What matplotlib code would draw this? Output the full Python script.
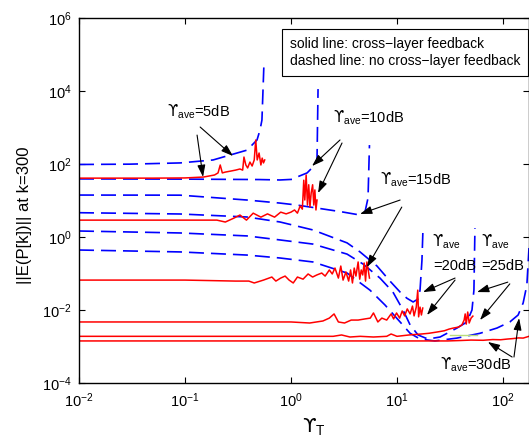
import matplotlib
matplotlib.use('Agg')
import matplotlib.pyplot as plt

plt.rcParams['font.family'] = ['Liberation Sans', 'DejaVu Sans']
plt.rcParams['mathtext.fontset'] = 'custom'
plt.rcParams['mathtext.rm'] = 'Liberation Sans'
plt.rcParams['mathtext.it'] = 'Liberation Sans:italic'
plt.rcParams['mathtext.bf'] = 'Liberation Sans:bold'
plt.rcParams['mathtext.sf'] = 'DejaVu Sans'
plt.rcParams['mathtext.fallback'] = 'stixsans'

# dashed lines: no cross-layer feedback
dash_x_5 = [0.01, 0.03, 0.09, 0.184, 0.266, 0.385, 0.478, 0.51, 0.532, 0.556]
dash_y_5 = [97, 99, 107, 129, 176, 240, 455, 850, 1600, 58000]

dash_x_10 = [0.01, 0.1, 0.5, 0.787, 1.04, 1.14, 1.42, 1.61, 1.76, 1.80]
dash_y_10 = [39, 38.5, 37.5, 36.5, 38, 44, 57, 83, 129, 11300]

dash_x_15 = [0.01, 0.09, 0.385, 0.787, 1.14, 1.76, 3.0, 4.48, 4.99, 5.33, 5.50]
dash_y_15 = [14.1, 14, 10.3, 8.5, 7.5, 6.2, 4.9, 4.0, 4.84, 11.7, 330]

dash_x_20 = [0.01, 0.09, 0.385, 0.787, 1.61, 3.38, 4.48, 6.48, 8.59, 10.7, 12.4,
             14.2, 15.8, 16.5, 17.2, 17.6]
dash_y_20 = [4.63, 4.27, 3.53, 2.58, 1.56, 0.69, 0.39, 0.16, 0.062, 0.031, 0.021,
             0.0166, 0.020, 0.035, 0.23, 1.76]

dash_x_25 = [0.01, 0.09, 0.385, 0.787, 1.61, 3.38, 4.78, 6.91, 9.16, 11.4, 13.3,
             15.8, 19.6, 25.5, 36.8, 45.7, 51.0, 53.2, 54.4]
dash_y_25 = [1.46, 1.29, 1.07, 0.83, 0.64, 0.34, 0.182, 0.075, 0.031, 0.01, 0.0039,
             0.00207, 0.0016, 0.00182, 0.0032, 0.0047, 0.01, 0.035, 1.76]

dash_x_30 = [0.01, 0.09, 0.385, 0.787, 1.61, 3.38, 5.56, 7.71, 10.7, 13.3, 16.5,
             22.8, 36.8, 60.7, 87.7, 116, 139, 155, 168, 176]
dash_y_30 = [0.44, 0.39, 0.32, 0.266, 0.207, 0.103, 0.035, 0.0137, 0.0047, 0.0023,
             0.0016, 0.00142, 0.0017, 0.0023, 0.0032, 0.0047, 0.0073, 0.0156, 0.048, 0.50]

# solid lines: cross-layer feedback
sol_x_5 = [0.01, 0.05, 0.1, 0.15, 0.19, 0.205, 0.215, 0.225, 0.24, 0.27, 0.30, 0.33,
           0.35, 0.36, 0.375, 0.39, 0.41, 0.43, 0.45, 0.465, 0.48, 0.50, 0.52, 0.535,
           0.55, 0.565]
sol_y_5 = [41, 41, 41.5, 44, 50, 57, 94, 57, 60, 64, 68, 73,
           68, 155, 94, 78, 113, 88, 129, 455, 129, 200, 94, 145,
           107, 129]

sol_x_10 = [0.01, 0.1, 0.2, 0.24, 0.29, 0.33, 0.38, 0.44, 0.52, 0.6, 0.7, 0.8, 0.9,
            1.0, 1.08, 1.15, 1.22, 1.28, 1.32, 1.35, 1.39, 1.43, 1.47, 1.51, 1.55,
            1.6, 1.64, 1.68, 1.72, 1.76]
sol_y_10 = [2.9, 2.9, 2.9, 2.57, 3.3, 4.0, 2.9, 4.5, 3.5, 4.3, 3.5, 4.8, 4.3,
            4.8, 5.5, 4.5, 7.1, 5.8, 36, 10.3, 50, 7.5, 27, 6.6, 16,
            27, 7.5, 19.5, 5.5, 10.3]

sol_x_15 = [0.01, 0.1, 0.3, 0.4, 0.45, 0.55, 0.66, 0.72, 0.8, 0.88, 0.96, 1.05, 1.15,
            1.3, 1.45, 1.6, 1.75, 1.95, 2.1, 2.3, 2.45, 2.6, 2.8, 2.95, 3.1, 3.3,
            3.5, 3.65, 3.8, 3.95, 4.1, 4.3, 4.45, 4.6, 4.75, 4.9, 5.05, 5.2, 5.35, 5.5]
sol_y_15 = [0.066, 0.066, 0.062, 0.062, 0.055, 0.066, 0.080, 0.062, 0.075, 0.085,
            0.066, 0.055, 0.080, 0.07, 0.097, 0.08, 0.091, 0.103, 0.085, 0.125,
            0.097, 0.141, 0.075, 0.16, 0.066, 0.11, 0.062, 0.125, 0.055, 0.141,
            0.085, 0.207, 0.07, 0.125, 0.091, 0.194, 0.062, 0.207, 0.125, 0.075]

sol_x_20 = [0.01, 0.1, 1.0, 1.5, 2.0, 2.3, 2.55, 2.8, 3.2, 3.7, 4.3, 5.0, 5.6, 6.0,
            6.6, 7.2, 8.0, 8.8, 9.3, 9.9, 10.6, 11.2, 11.8, 12.5, 13.3, 14.0, 14.5,
            15.2, 15.7, 16.0, 16.5, 17.0, 17.5]
sol_y_20 = [0.0047, 0.0047, 0.0047, 0.0044, 0.005, 0.006, 0.0078, 0.0047, 0.0044,
            0.0053, 0.0053, 0.0057, 0.006, 0.0083, 0.0047, 0.006, 0.0053, 0.0078,
            0.0057, 0.0083, 0.006, 0.0094, 0.0069, 0.0107, 0.0078, 0.0128, 0.0069,
            0.012, 0.035, 0.0065, 0.012, 0.0073, 0.0113]

sol_x_25 = [0.01, 1.0, 2.5, 3.0, 3.6, 4.5, 6.0, 8.0, 8.8, 10, 13, 17, 20, 24, 28, 31,
            34, 38, 41, 43, 44, 45, 46.5, 48, 50, 52]
sol_y_25 = [0.0019, 0.0019, 0.0019, 0.00207, 0.00182, 0.0019, 0.00182, 0.0019,
            0.0022, 0.0019, 0.00207, 0.0022, 0.0023, 0.0025, 0.0027, 0.003, 0.0032,
            0.0034, 0.0039, 0.0053, 0.0078, 0.0041, 0.0088, 0.0044, 0.006, 0.0068]

sol_x_30 = [0.01, 1, 10, 30, 40, 50, 65, 80, 95, 110, 125, 140, 155, 176]
sol_y_30 = [0.00142, 0.00142, 0.00142, 0.00142, 0.00146, 0.0015, 0.00148, 0.00155,
            0.00153, 0.0016, 0.00165, 0.00172, 0.0017, 0.0019]

green_x = [31.6, 57]
green_y = [0.0021, 0.0021]

fig = plt.figure(figsize=(5.29, 4.37), dpi=100)
ax = fig.add_axes([79 / 529, 54 / 437, 450 / 529, 365 / 437])

dashes = (0, (9, 4.2))
for xs, ys in [(dash_x_5, dash_y_5), (dash_x_10, dash_y_10), (dash_x_15, dash_y_15),
               (dash_x_20, dash_y_20), (dash_x_25, dash_y_25), (dash_x_30, dash_y_30)]:
    ax.plot(xs, ys, color='#0000ff', lw=1.2, linestyle=dashes)

ax.plot(green_x, green_y, color='#b8dc7c', lw=1.0)

for xs, ys in [(sol_x_5, sol_y_5), (sol_x_10, sol_y_10), (sol_x_15, sol_y_15),
               (sol_x_20, sol_y_20), (sol_x_25, sol_y_25), (sol_x_30, sol_y_30)]:
    ax.plot(xs, ys, color='#ff0000', lw=1.1)

ax.set_xscale('log')
ax.set_yscale('log')
ax.set_xlim(0.01, 176)
ax.set_ylim(1e-4, 1e6)
ax.set_xticks([1e-2, 1e-1, 1, 10, 100])
ax.set_yticks([1e-4, 1e-2, 1, 1e2, 1e4, 1e6])
ax.minorticks_off()
ax.tick_params(direction='in', length=4, width=0.8, top=True, right=True,
               labelsize=10.5)
ax.tick_params(axis='y', pad=5)
ax.tick_params(axis='x', pad=6)
for s in ax.spines.values():
    s.set_linewidth(1.0)

ax.set_ylabel('||E(P[k])|| at k=300', fontsize=12)
ax.yaxis.set_label_coords(-0.105, 0.46)
ax.set_xlabel(r'$\mathsf{ϒ}_{\mathrm{T}}$', fontsize=14)
ax.xaxis.set_label_coords(0.522, -0.09)

ax.text(0.469, 0.905, 'solid line: cross\u2212layer feedback\ndashed line: no cross\u2212layer feedback',
        transform=ax.transAxes, fontsize=10, va='center', ha='left', linespacing=1.3,
        bbox=dict(boxstyle='square,pad=0.55', fc='white', ec='black', lw=0.8))

ups = r'$\mathsf{ϒ}_{\mathrm{ave}}$'
tfs = 10.5
ax.text(0.0676, 1950, ups + '=5dB', fontsize=tfs)
ax.text(2.49, 1370, ups + '=10dB', fontsize=tfs)
ax.text(6.9, 26.6, ups + '=15dB', fontsize=tfs)
ax.text(21.4, 0.532, ups, fontsize=tfs)
ax.text(21.8, 0.125, '=20dB', fontsize=tfs)
ax.text(62, 0.532, ups, fontsize=tfs)
ax.text(62, 0.125, '=25dB', fontsize=tfs)
ax.text(25.5, 0.000227, ups + '=30dB', fontsize=tfs)

arrows = dict(arrowstyle='-|>,head_length=0.9,head_width=0.3', color='black',
              lw=0.8, mutation_scale=8, shrinkA=0, shrinkB=0)
ax.annotate('', xy=(0.284, 165), xytext=(0.139, 1030), arrowprops=arrows)
ax.annotate('', xy=(0.148, 44), xytext=(0.13, 620), arrowprops=arrows)
ax.annotate('', xy=(1.58, 88), xytext=(2.9, 455), arrowprops=arrows)
ax.annotate('', xy=(1.80, 16), xytext=(3.03, 376), arrowprops=arrows)
ax.annotate('', xy=(4.48, 4.27), xytext=(10.7, 10.3), arrowprops=arrows)
ax.annotate('', xy=(5.21, 0.15), xytext=(11.1, 6.6), arrowprops=arrows)
ax.annotate('', xy=(17.6, 0.031), xytext=(35.3, 0.075), arrowprops=arrows)
ax.annotate('', xy=(19.2, 0.0073), xytext=(35.3, 0.066), arrowprops=arrows)
ax.annotate('', xy=(56.9, 0.031), xytext=(111, 0.058), arrowprops=arrows)
ax.annotate('', xy=(60.7, 0.0053), xytext=(116, 0.052), arrowprops=arrows)
ax.annotate('', xy=(72, 0.00133), xytext=(122, 0.000515), arrowprops=arrows)
ax.annotate('', xy=(142, 0.006), xytext=(127, 0.000515), arrowprops=arrows)

fig.savefig('out.png', dpi=100)
